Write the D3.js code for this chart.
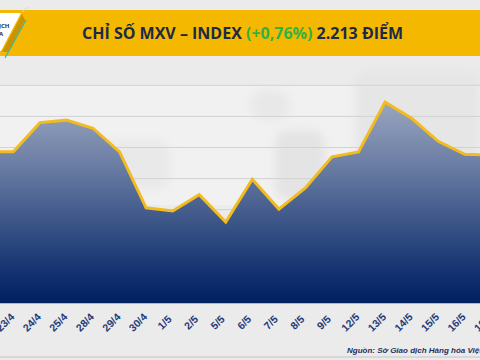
<!DOCTYPE html>
<html><head><meta charset="utf-8">
<script src="https://cdn.jsdelivr.net/npm/d3@7"></script>
<style>html,body{margin:0;padding:0;background:#ececec}svg{display:block}</style>
</head><body><svg id="c" width="480" height="360"></svg>
<script>
const dates = ["22/4","23/4","24/4","25/4","28/4","29/4","30/4","1/5","2/5","5/5","6/5","7/5","8/5","9/5","12/5","13/5","14/5","15/5","16/5","19/5"];
const values = [2218,2218,2265,2269,2256,2218,2128,2123,2149,2105,2174,2126,2160,2210,2218,2298,2272,2235,2214,2213];
const labelled = dates.slice(1);
const gridTicks = [1975,2025,2075,2125,2175,2225,2275,2325];

const svg = d3.select("#c");
const defs = svg.append("defs");
const grad = defs.append("linearGradient").attr("id","ag").attr("gradientUnits","userSpaceOnUse")
  .attr("x1",0).attr("x2",0).attr("y1",102).attr("y2",303);
[[0,"#9aa6bf"],[0.3,"#6d7fa5"],[0.6,"#3b5587"],[0.85,"#133170"],[1,"#002060"]]
  .forEach(d=>grad.append("stop").attr("offset",d[0]).attr("stop-color",d[1]));
defs.append("filter").attr("id","soft").attr("x","-30%").attr("y","-30%").attr("width","160%").attr("height","160%")
  .append("feGaussianBlur").attr("stdDeviation",5);

const x = d3.scalePoint().domain(dates).range([-13.2,491.3]);
const y = d3.scaleLinear().domain([1975,2325]).range([303,85.3]);

// background
svg.append("rect").attr("width",480).attr("height",360).attr("fill","#ebebeb");
svg.append("rect").attr("x",0).attr("y",85).attr("width",480).attr("height",120).attr("fill","#f1f1f1");
const mapShapes = [[355,70,125,120,"#e6e6e6"],[90,140,80,50,"#e9e9e9"],[275,130,50,70,"#e4e4e4"],[250,90,40,30,"#e8e8e8"]];
const bg = svg.append("g").attr("filter","url(#soft)");
mapShapes.forEach(s=>bg.append("rect").attr("x",s[0]).attr("y",s[1]).attr("width",s[2]).attr("height",s[3]).attr("fill",s[4]).attr("rx",14));

// grid
svg.append("g").selectAll("line").data(gridTicks).join("line")
  .attr("x1",0).attr("x2",480).attr("y1",d=>y(d)).attr("y2",d=>y(d))
  .attr("stroke","#d2d2d2").attr("stroke-width",1);

// banner
svg.append("rect").attr("x",0).attr("y",10).attr("width",480).attr("height",46).attr("fill","#f5b800");
svg.append("path").attr("d","M0 13H21L1 51H0Z").attr("fill","#ffffff");
svg.append("path").attr("d","M22 14L25 20L8 52L2 52Z").attr("fill","#c99400");
svg.append("line").attr("x1",26).attr("y1",20).attr("x2",5).attr("y2",58).attr("stroke","#35b5a8").attr("stroke-width",1.2);
svg.append("line").attr("x1",22).attr("y1",12).attr("x2",28).attr("y2",7).attr("stroke","#d8d8c8").attr("stroke-width",1);
svg.append("text").attr("x",-1).attr("y",28).attr("font-family","'Open Sans'").attr("font-size",6).attr("font-weight",700).attr("fill","#1c2c50").text("ỊCH");
svg.append("text").attr("x",-1).attr("y",36).attr("font-family","'Open Sans'").attr("font-size",6).attr("font-weight",700).attr("fill","#1c2c50").text("A");

const title = svg.append("text").attr("x",82).attr("y",38.5).attr("font-family","'Open Sans'").attr("font-weight",700).attr("font-size",16).attr("fill","#1b2a4a");
title.append("tspan").text("CHỈ SỐ MXV – INDEX ");
title.append("tspan").attr("fill","#2fb344").text("(+0,76%)");
title.append("tspan").text(" 2.213 ĐIỂM");

// area + line
const area = d3.area().x((d,i)=>x(dates[i])).y0(y(1975)).y1(d=>y(d));
const line = d3.line().x((d,i)=>x(dates[i])).y(d=>y(d));
svg.append("path").datum(values).attr("d",area).attr("fill","url(#ag)");
svg.append("line").attr("x1",0).attr("x2",480).attr("y1",303.5).attr("y2",303.5).attr("stroke","#a9b8d0").attr("stroke-width",1);
svg.append("path").datum(values).attr("d",line).attr("fill","none").attr("stroke","#f2bb1f").attr("stroke-width",3).attr("stroke-linejoin","miter");

// x labels
svg.append("g").selectAll("text").data(labelled).join("text")
  .attr("transform",d=>`translate(${x(d)-7.5},323) rotate(-45)`)
  .attr("text-anchor","middle").attr("dominant-baseline","middle")
  .attr("font-family","'Liberation Sans'").attr("font-weight",700).attr("font-size",10.5).attr("fill","#1f3a78").text(d=>d);

// footer
svg.append("text").attr("x",347).attr("y",353).attr("font-family","'Liberation Sans'").attr("font-style","italic").attr("font-weight",700).attr("font-size",8).attr("fill","#1f3060").text("Nguồn: Sở Giao dịch Hàng hóa Việt Nam");
svg.append("line").attr("x1",0).attr("x2",480).attr("y1",357).attr("y2",357).attr("stroke","#c4c4c4").attr("stroke-width",1);
</script></body></html>
